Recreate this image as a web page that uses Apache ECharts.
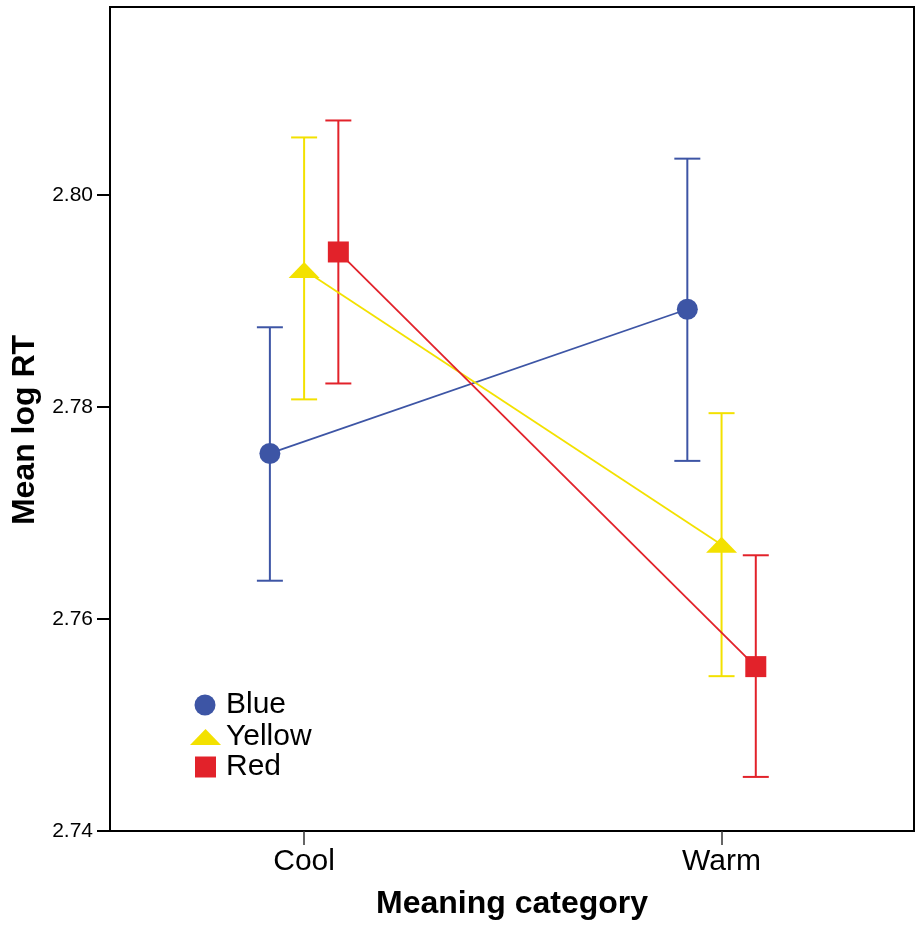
<!DOCTYPE html>
<html>
<head>
<meta charset="utf-8">
<script src="https://cdn.jsdelivr.net/npm/echarts@6/dist/echarts.min.js"></script>
<style>
  html, body { margin: 0; padding: 0; background: #fff; }
  #chart { width: 915px; height: 925px; }
</style>
</head>
<body>
<div id="chart"></div>
<script>
// data
var categories = ['Cool', 'Warm'];
var groups = ['Blue', 'Yellow', 'Red'];
var blueMean = [2.7756, 2.7892];
var blueLow = [2.7636, 2.7749];
var blueHigh = [2.7875, 2.8034];
var yellowMean = [2.7929, 2.7670];
var yellowLow = [2.7807, 2.7546];
var yellowHigh = [2.8054, 2.7794];
var redMean = [2.7946, 2.7555];
var redLow = [2.7822, 2.7451];
var redHigh = [2.8070, 2.7660];
var yTicks = [2.74, 2.76, 2.78, 2.80];

var FONT = 'Liberation Sans, Arial, sans-serif';
var COLORS = ['#3D55A5', '#F3E100', '#E2222A'];
var SYMBOLS = ['circle', 'triangle', 'rect'];
var SYMBOL_SIZES = [21, [31, 16], 21];
var OFFSETS = [-0.082, 0, 0.082]; // dodge of each group around the category

var means = [blueMean, yellowMean, redMean];
var lows = [blueLow, yellowLow, redLow];
var highs = [blueHigh, yellowHigh, redHigh];

var chart = echarts.init(document.getElementById('chart'));

var series = [];
for (var g = 0; g < groups.length; g++) {
    var lineData = [];
    var barData = [];
    for (var c = 0; c < categories.length; c++) {
        var x = c + 1 + OFFSETS[g];
        lineData.push([x, means[g][c]]);
        barData.push([x, lows[g][c], highs[g][c]]);
    }
    // error bars
    series.push({
        name: groups[g] + ' CI',
        type: 'custom',
        z: 1,
        silent: true,
        data: barData,
        renderItem: (function (color) {
            return function (params, api) {
                var lo = api.coord([api.value(0), api.value(1)]);
                var hi = api.coord([api.value(0), api.value(2)]);
                var half = 13;
                var style = { stroke: color, lineWidth: 2 };
                return {
                    type: 'group',
                    children: [
                        { type: 'line', shape: { x1: lo[0], y1: lo[1], x2: hi[0], y2: hi[1] }, style: style },
                        { type: 'line', shape: { x1: hi[0] - half, y1: hi[1], x2: hi[0] + half, y2: hi[1] }, style: style },
                        { type: 'line', shape: { x1: lo[0] - half, y1: lo[1], x2: lo[0] + half, y2: lo[1] }, style: style }
                    ]
                };
            };
        })(COLORS[g])
    });
    // means joined by a line
    series.push({
        name: groups[g],
        type: 'line',
        z: 3,
        data: lineData,
        symbol: SYMBOLS[g],
        symbolSize: SYMBOL_SIZES[g],
        showAllSymbol: true,
        lineStyle: { color: COLORS[g], width: 1.8 },
        itemStyle: { color: COLORS[g], opacity: 1 },
        emphasis: { disabled: true },
        animation: false
    });
}

// one legend per group so each icon can keep its own size
var legendBoxes = [
    { left: 194.5, top: 690, w: 21, h: 21, pad: 5.5 },
    { left: 190, top: 722, w: 31, h: 16, pad: 0 },
    { left: 195, top: 752, w: 21, h: 21, pad: 5 }
];
var legends = [];
for (var i = 0; i < groups.length; i++) {
    legends.push({
        data: [{ name: groups[i], icon: SYMBOLS[i] }],
        left: legendBoxes[i].left,
        top: legendBoxes[i].top,
        padding: 0,
        itemWidth: legendBoxes[i].w,
        itemHeight: legendBoxes[i].h,
        selectedMode: false,
        textStyle: {
            fontFamily: FONT,
            fontSize: 30,
            lineHeight: 30,
            color: '#000',
            padding: [0, 0, 0, legendBoxes[i].pad]
        }
    });
}

chart.setOption({
    animation: false,
    backgroundColor: '#fff',
    grid: {
        left: 110,
        right: 1,
        top: 7,
        bottom: 93.5,
        show: true,
        borderColor: '#000',
        borderWidth: 2
    },
    legend: legends,
    xAxis: {
        type: 'value',
        min: 0.535,
        max: 2.461,
        name: 'Meaning category',
        nameLocation: 'middle',
        nameGap: 57,
        nameTextStyle: { fontFamily: FONT, fontSize: 32, fontWeight: 'bold', color: '#000' },
        axisLine: { show: true, lineStyle: { color: '#000', width: 2 } },
        axisTick: {
            show: true,
            length: 14,
            customValues: [1, 2],
            lineStyle: { color: '#333', width: 1.5 }
        },
        axisLabel: {
            customValues: [1, 2],
            margin: 16,
            fontFamily: FONT,
            fontSize: 30,
            color: '#000',
            formatter: function (v) { return categories[Math.round(v) - 1] || ''; }
        },
        splitLine: { show: false }
    },
    yAxis: {
        type: 'value',
        min: 2.74,
        max: 2.8177,
        name: 'Mean log RT',
        nameLocation: 'middle',
        nameGap: 66,
        nameTextStyle: {
            fontFamily: FONT, fontSize: 32, fontWeight: 'bold', color: '#000',
            padding: [0, 22, 0, 0]
        },
        axisLine: { show: true, lineStyle: { color: '#000', width: 2 } },
        axisTick: {
            show: true,
            length: 13,
            customValues: yTicks,
            lineStyle: { color: '#000', width: 2 }
        },
        axisLabel: {
            customValues: yTicks,
            margin: 17,
            fontFamily: FONT,
            fontSize: 21,
            color: '#000',
            formatter: function (v) { return v.toFixed(2); }
        },
        splitLine: { show: false }
    },
    series: series
});
</script>
</body>
</html>
